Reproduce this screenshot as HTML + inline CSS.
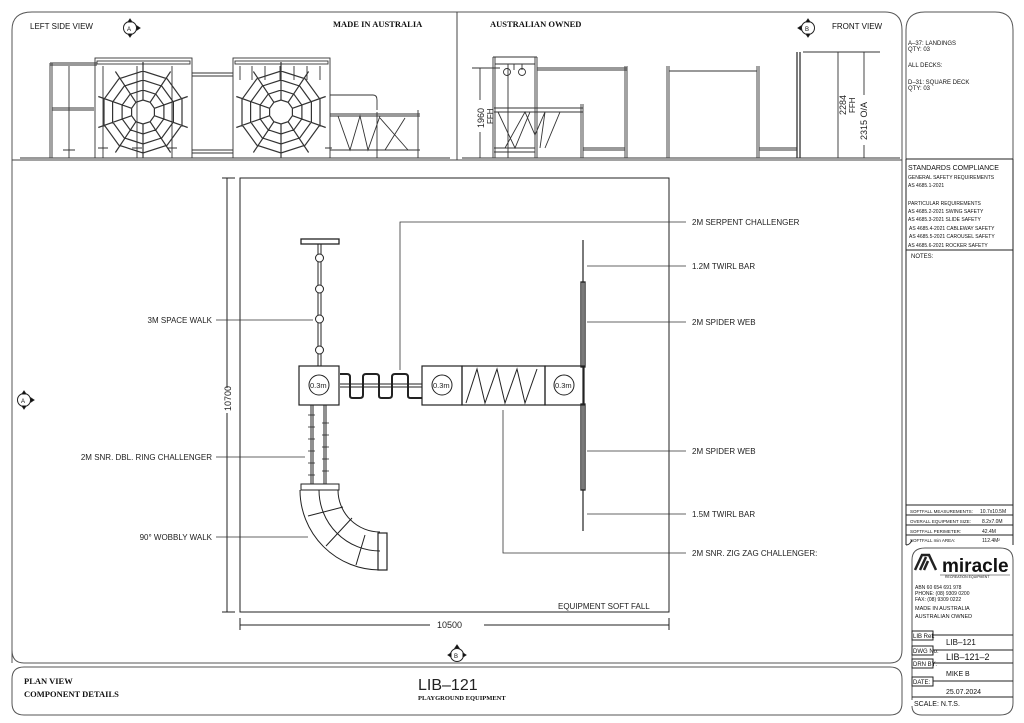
<!DOCTYPE html>
<html><head><meta charset="utf-8"><style>
html,body{margin:0;padding:0;background:#fff;}
svg{display:block;font-family:"Liberation Sans",sans-serif;}
.t{font-size:8px;fill:#111;}
.s{font-size:6px;fill:#111;}
.b{font-family:"Liberation Serif",serif;font-weight:bold;font-size:8.5px;fill:#111;}
</style></head><body>
<svg id="sv" width="1024" height="723" viewBox="0 0 1024 723" xmlns="http://www.w3.org/2000/svg" stroke="#222" fill="none" stroke-width="1">
<path d="M12,663 L12,30 Q12,12 32,12 L885,12 Q902,12 902,30 L902,650 Q902,663 890,663 L24,663 Q12,663 12,650Z" stroke="#555"/>
<line x1="12" y1="160" x2="902" y2="160" stroke="#444"/>
<line x1="457" y1="12" x2="457" y2="160" stroke="#444"/>
<path d="M24,667 L890,667 Q902,667 902,679 L902,703 Q902,715 890,715 L24,715 Q12,715 12,703 L12,679 Q12,667 24,667Z" stroke="#555"/>
<path d="M906,159 L906,30 Q906,12 925,12 L995,12 Q1013,12 1013,30 L1013,159Z" stroke="#555"/>
<line x1="906" y1="159" x2="1013" y2="159"/>
<line x1="906" y1="159" x2="906" y2="545"/><line x1="1013" y1="159" x2="1013" y2="545"/>
<line x1="906" y1="250" x2="1013" y2="250"/>
<line x1="906" y1="505" x2="1013" y2="505"/>
<line x1="906" y1="515" x2="1013" y2="515"/><line x1="906" y1="525" x2="1013" y2="525"/><line x1="906" y1="535" x2="1013" y2="535"/>
<path d="M906,545 Q910,545 912,540"/>
<path d="M912,700 L912,560 Q912,548 925,548 L1000,548 Q1013,548 1013,560 L1013,703 Q1013,715 1000,715 L922,715 Q912,715 912,706" stroke="#555"/>
<rect x="912" y="631" width="21" height="9"/><rect x="912" y="646" width="21" height="9"/><rect x="912" y="659" width="21" height="9"/><rect x="912" y="677" width="21" height="9"/>
<path d="M933,635 L1013,635 M933,650 L1013,650 M933,663 L1013,663 M933,681 L1013,681 M912,697 L1013,697"/>

<g stroke="none">
<text class="s" x="908" y="45">A–37: LANDINGS</text>
<text class="s" x="908" y="51">QTY: 03</text>
<text class="s" x="908" y="67">ALL DECKS:</text>
<text class="s" x="908" y="84">D–31: SQUARE DECK</text>
<text class="s" x="908" y="90">QTY: 03</text>
<text x="908" y="170" style="font-size:7px" fill="#111">STANDARDS COMPLIANCE</text>
<text class="s" x="908" y="179" style="font-size:5px">GENERAL SAFETY REQUIREMENTS</text>
<text class="s" x="908" y="187" style="font-size:5px">AS 4685.1-2021</text>
<text class="s" x="908" y="205" style="font-size:5px">PARTICULAR REQUIREMENTS</text>
<text class="s" x="908" y="213" style="font-size:5px">AS 4685.2-2021 SWING SAFETY</text>
<text class="s" x="908" y="221" style="font-size:5px">AS 4685.3-2021 SLIDE SAFETY</text>
<text class="s" x="909" y="230" style="font-size:5px">AS 4685.4-2021 CABLEWAY SAFETY</text>
<text class="s" x="909" y="238" style="font-size:5px">AS 4685.5-2021 CAROUSEL SAFETY</text>
<text class="s" x="908" y="247" style="font-size:5px">AS 4685.6-2021 ROCKER SAFETY</text>
<text class="s" x="911" y="258">NOTES:</text>
<text class="s" x="910" y="513" style="font-size:4.5px">SOFTFALL MEASUREMENTS:</text><text class="s" x="980" y="513" style="font-size:5px">10.7x10.5M</text>
<text class="s" x="910" y="523" style="font-size:4.5px">OVERALL EQUIPMENT SIZE:</text><text class="s" x="982" y="523" style="font-size:5px">8.2x7.0M</text>
<text class="s" x="910" y="533" style="font-size:4.5px">SOFTFALL PERIMETER:</text><text class="s" x="982" y="533" style="font-size:5px">42.4M</text>
<text class="s" x="910" y="542" style="font-size:4.5px">SOFTFALL min AREA:</text><text class="s" x="982" y="542" style="font-size:5px">112.4M²</text>
<text x="942" y="572" style="font-size:19px;font-weight:bold" fill="#111">miracle</text>
<text x="945" y="578" style="font-size:3.5px" fill="#111">RECREATION EQUIPMENT</text>
<text class="s" x="915" y="589" style="font-size:5px">ABN 60 654 691 978</text>
<text class="s" x="915" y="595" style="font-size:5px">PHONE: (08) 9309 0200</text>
<text class="s" x="915" y="601" style="font-size:5px">FAX:     (08) 9309 0222</text>
<text class="s" x="915" y="610" style="font-size:5.5px" fill="#444">MADE IN AUSTRALIA</text>
<text class="s" x="915" y="618" style="font-size:5.5px" fill="#444">AUSTRALIAN OWNED</text>
<text class="s" x="913" y="638">LIB Ref:</text>
<text class="t" x="946" y="645">LIB–121</text>
<text class="s" x="913" y="653">DWG No:</text>
<text x="946" y="660" style="font-size:9px" fill="#111">LIB–121–2</text>
<text class="s" x="913" y="666">DRN BY:</text>
<text class="s" x="946" y="676" style="font-size:7px">MIKE B</text>
<text class="s" x="913" y="684">DATE:</text>
<text class="s" x="946" y="694" style="font-size:7px">25.07.2024</text>
<text class="s" x="914" y="706" style="font-size:7px">SCALE: N.T.S.</text>
</g>
<path d="M915,570 L922,555 L929,555 L936,570 M924,570 L928,561 M920,570 L926,557" stroke-width="2.5"/>
<line x1="940" y1="575" x2="1010" y2="575" stroke-width="0.5"/>

<g stroke="none">
<text class="t" x="30" y="29">LEFT SIDE VIEW</text>
<text class="b" x="333" y="27">MADE IN AUSTRALIA</text>
<text class="b" x="490" y="27">AUSTRALIAN OWNED</text>
<text class="t" x="832" y="29">FRONT VIEW</text>
<text class="b" x="24" y="684">PLAN VIEW</text>
<text class="b" x="24" y="697">COMPONENT DETAILS</text>
<text x="418" y="690" style="font-size:16px" fill="#222">LIB–121</text>
<text class="b" x="418" y="700" style="font-size:6.5px">PLAYGROUND EQUIPMENT</text>
</g>
<g>
<circle cx="130" cy="28" r="6.5"/><path d="M130,19 L128,22 L132,22Z M130,37 L128,34 L132,34Z M140,28 L137,26 L137,30Z" fill="#000"/>
<circle cx="808" cy="28" r="6.5"/><path d="M808,19 L806,22 L810,22Z M808,37 L806,34 L810,34Z M798,28 L801,26 L801,30Z" fill="#000"/>
<circle cx="24" cy="400" r="6.5"/><path d="M24,391 L22,394 L26,394Z M24,409 L22,406 L26,406Z M34,400 L31,398 L31,402Z" fill="#000"/>
<circle cx="457" cy="655" r="6.5"/><path d="M457,645 L455,648 L459,648Z M448,655 L451,653 L451,657Z M466,655 L463,653 L463,657Z" fill="#000"/>
</g>
<g stroke="none" style="font-size:6px" fill="#111">
<text x="127" y="31">A</text><text x="805" y="31">B</text><text x="21" y="403">A</text><text x="454" y="658">B</text>
</g>

<g stroke="#333" stroke-width="0.9">
<line x1="20" y1="158" x2="450" y2="158"/>
<path d="M50,63 V158 M52,63 V158 M50,63 H97 M50,65 H97 M69,66 V158 M52,108 H94 M52,110 H94 M63,150 H75"/>
<rect x="95" y="58" width="97" height="100"/><rect x="97" y="61" width="93" height="3"/>
<path d="M103,66 V158 M137,66 V158 M172,66 V158 M98,148 H108 M132,148 H142 M167,148 H177"/>
<rect x="233" y="58" width="97" height="100"/><rect x="235" y="61" width="93" height="3"/>
<path d="M240,66 V80 M252,66 V80 M265,66 V80 M280,66 V80 M294,66 V80 M307,66 V80 M320,66 V80"/>
<path d="M192,73 H233 M192,76 H233 M192,150 H233 M192,153 H233"/>
<path d="M330,95 H373 Q377,95 377,100 V110 M330,114 H420 M330,116 H420 M330,150 H420 M377,112 V158 M418,110 V158 M338,116 L350,150 L360,116 L368,150 L380,116 M380,118 L408,150 M405,118 L385,150 M325,148 H332"/>
</g>
<g id="webs" stroke="#333" stroke-width="1.2"></g>

<g stroke="#333" stroke-width="0.9">
<line x1="462" y1="158" x2="900" y2="158"/>
<path d="M493,57 V158 M495,57 V158 M535,57 V158 M537,57 V158 M493,57 H537 M495,64 H535 M508,64 V158 M514,64 V70 M522,64 V70"/>
<circle cx="507" cy="72" r="3.5"/><circle cx="522" cy="72" r="3.5"/>
<path d="M537,68 H627 M537,70 H627 M625,66 V158 M627,66 V158"/>
<path d="M494,108 H583 M494,112 H583 M581,104 V158 M583,104 V158 M494,148 H535 M494,152 H535 M498,112 L515,148 L530,112 M505,148 L525,112 L535,135 L545,112 L540,148 M545,148 L560,112"/>
<path d="M583,148 H625 M583,150 H625 M667,66 V158 M669,66 V158 M757,66 V158 M759,66 V158 M669,71 H757 M759,148 H797 M759,150 H797"/>
<path d="M797,52 V158 M800,52 V158" stroke-width="1.3"/>
<path d="M480,68 V100 M480,132 V158 M472,68 H500 M838,52 V158 M803,52 H850 M864,52 V95 M864,145 V158 M850,52 H880"/>
</g>
<g stroke="none" fill="#222" style="font-size:9px">
<text transform="translate(484,128) rotate(-90)">1960</text>
<text transform="translate(493,124) rotate(-90)" style="font-size:8px">FFH</text>
<text transform="translate(846,115) rotate(-90)">2284</text>
<text transform="translate(855,113) rotate(-90)" style="font-size:8px">FFH</text>
<text transform="translate(867,140) rotate(-90)">2315 O/A</text>
</g>

<rect x="240" y="178" width="429" height="434" stroke="#222"/>
<path d="M227,178 V388 M227,413 V612 M222,178 H235 M222,612 H235 M240,625 H430 M484,625 H669 M240,618 V630 M669,618 V630"/>
<g stroke="none" fill="#222" style="font-size:9px">
<text transform="translate(231,411) rotate(-90)">10700</text>
<text x="437" y="628">10500</text>
<text x="558" y="609" style="font-size:8px">EQUIPMENT SOFT FALL</text>
</g>
<rect x="301" y="239" width="38" height="5" stroke-width="1.3"/>
<path d="M318,244 V366 M321,244 V366"/>
<g fill="#fff"><circle cx="319.5" cy="258" r="4"/><circle cx="319.5" cy="289" r="4"/><circle cx="319.5" cy="319" r="4"/><circle cx="319.5" cy="350" r="4"/></g>
<rect x="299" y="366" width="40" height="39" stroke-width="1.2"/>
<rect x="422" y="366" width="40" height="39" stroke-width="1.2"/>
<rect x="462" y="366" width="83" height="39" stroke-width="1.2"/>
<rect x="545" y="366" width="39" height="39" stroke-width="1.2"/>
<circle cx="319" cy="385" r="10"/><circle cx="442" cy="385" r="10"/><circle cx="564" cy="385" r="10"/>
<g stroke="none" fill="#222" style="font-size:7.5px"><text x="310" y="388">0.3m</text><text x="433" y="388">0.3m</text><text x="555" y="388">0.3m</text></g>
<path d="M466,403 L477,369 L485,403 L497,369 L505,403 L517,369 L525,403 L537,369"/>
<path d="M340,384 H422 M340,387 H422"/>
<path d="M340,374 H347 Q350,374 350,377 V396 Q350,398 353,398 H360 Q363,398 363,395 V377 Q363,374 366,374 H376 Q379,374 379,377 V396 Q379,398 382,398 H389 Q392,398 392,395 V377 Q392,374 395,374 H405 Q408,374 408,377 V396 Q408,398 411,398 H422" stroke-width="2"/>
<path d="M583,240 V531" stroke-width="1.2"/>
<rect x="581" y="282" width="4" height="85" stroke-width="1.3"/>
<rect x="581" y="404" width="4" height="86" stroke-width="1.3"/>
<path d="M311,405 V484 M313,405 V484 M324,405 V484 M326,405 V484"/>
<path d="M308,415 H315 M308,427 H315 M308,439 H315 M308,451 H315 M308,463 H315 M308,475 H315 M322,423 H329 M322,435 H329 M322,447 H329 M322,459 H329 M322,471 H329" stroke-width="0.7"/>
<rect x="301" y="484" width="38" height="6"/>
<path d="M300,490 A80,80 0 0 0 380,570 M338,490 A42,42 0 0 0 380,532 M319,490 A61,61 0 0 0 380,551"/>
<path d="M308,516 L343,507 M326,546 L352,518 M356,565 L365,535"/>
<rect x="378" y="533" width="9" height="37" stroke-width="1.2"/>

<g stroke="#333" stroke-width="0.8">
<path d="M400,370 V222 H686"/>
<path d="M587,266 H686 M587,322 H686 M587,451 H686 M587,514 H686"/>
<path d="M503,410 V553 H686"/>
<path d="M216,320 H313 M216,457 H305 M216,537 H308"/>
</g>
<g stroke="none" fill="#222" style="font-size:8px">
<text x="692" y="225">2M SERPENT CHALLENGER</text>
<text x="692" y="269">1.2M TWIRL BAR</text>
<text x="692" y="325">2M SPIDER WEB</text>
<text x="692" y="454">2M SPIDER WEB</text>
<text x="692" y="517">1.5M TWIRL BAR</text>
<text x="692" y="556">2M SNR. ZIG ZAG CHALLENGER:</text>
<text x="212" y="323" text-anchor="end">3M SPACE WALK</text>
<text x="212" y="460" text-anchor="end">2M SNR. DBL. RING CHALLENGER</text>
<text x="212" y="540" text-anchor="end">90° WOBBLY WALK</text>
</g>
</svg>
<script>
(function(){
var g=document.getElementById('webs'),ns="http://www.w3.org/2000/svg",d="";
[[143,112],[281,112]].forEach(function(c){
 [12,22,32,41].forEach(function(r){
  var p=[];for(var i=0;i<10;i++){var a=i*Math.PI/5+Math.PI/10;p.push((c[0]+r*Math.cos(a)).toFixed(1)+","+(c[1]+r*Math.sin(a)).toFixed(1));}
  d+="M"+p.join(" L")+"Z ";
 });
 for(var i=0;i<10;i++){var a=i*Math.PI/5+Math.PI/10;d+="M"+(c[0]+12*Math.cos(a)).toFixed(1)+","+(c[1]+12*Math.sin(a)).toFixed(1)+" L"+(c[0]+47*Math.cos(a)).toFixed(1)+","+Math.min(158,c[1]+50*Math.sin(a)).toFixed(1)+" ";}
});
var p=document.createElementNS(ns,"path");p.setAttribute("d",d);g.appendChild(p);
})();
</script>
</body></html>
